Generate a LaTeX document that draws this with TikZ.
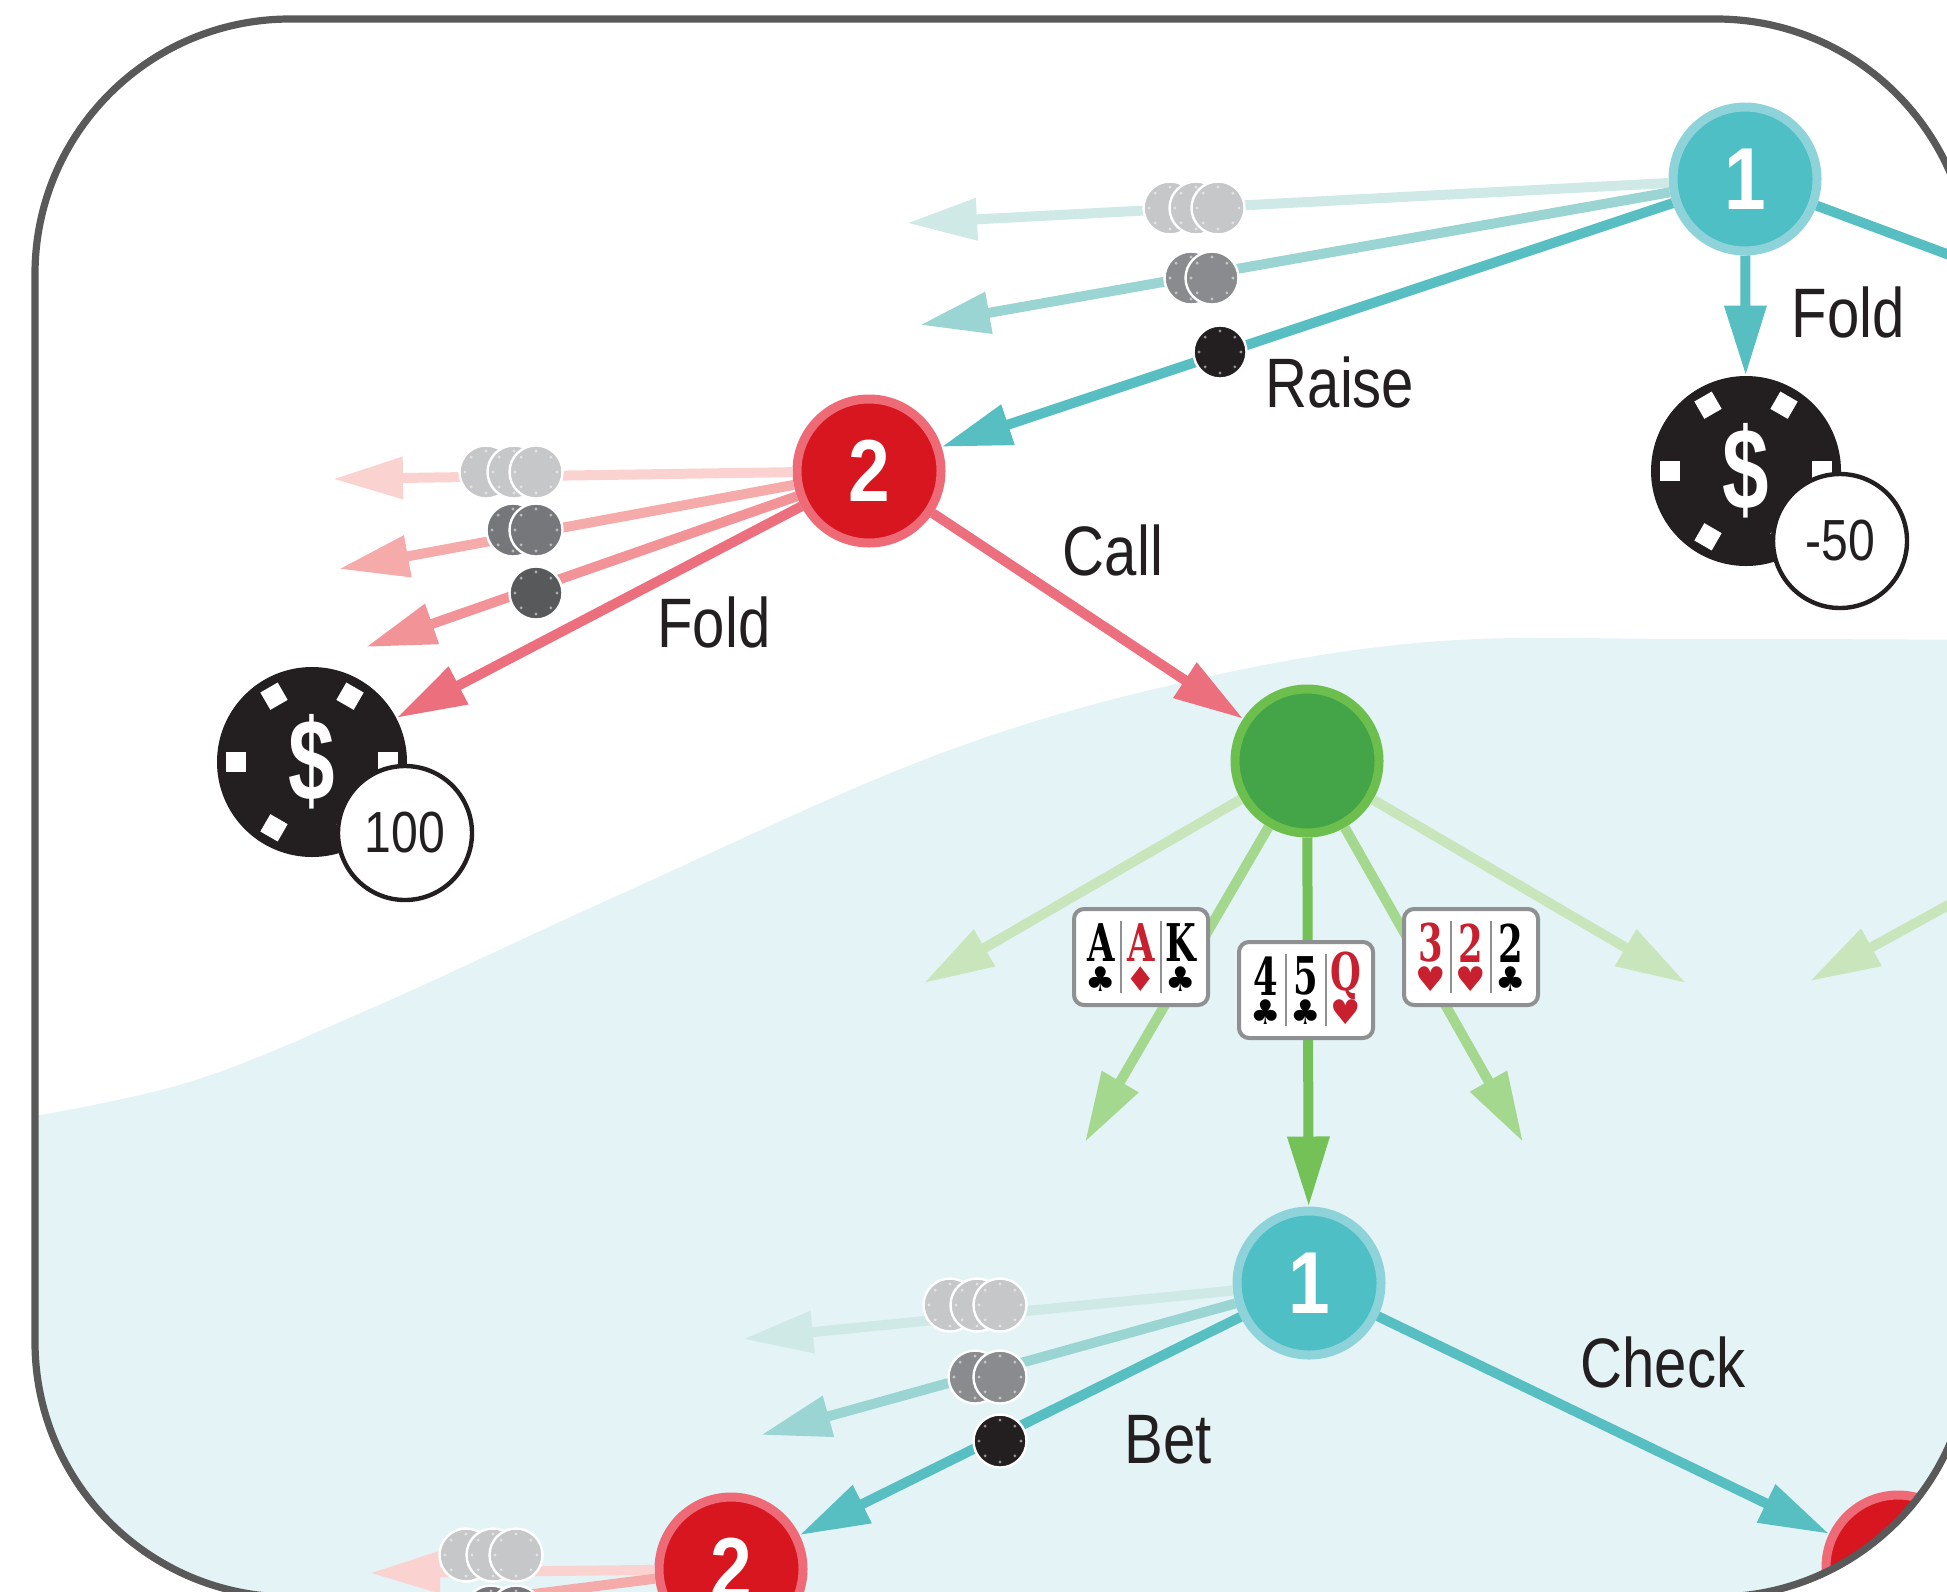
\documentclass[tikz,border=0pt]{standalone}
\usepackage{fontspec}
\usetikzlibrary{arrows.meta}
\newfontfamily\labelfont[FakeStretch=.83]{Liberation Sans}
\newfontfamily\playerfont[FakeStretch=.85]{Liberation Sans}
\newfontfamily\moneyfont[FakeStretch=.72]{Liberation Sans}
\newfontfamily\rankfont[FakeStretch=.68]{DejaVu Serif}
\newfontfamily\suitfont{DejaVu Sans}
\definecolor{felt}{HTML}{E4F3F6}
\definecolor{framegray}{HTML}{595959}
\definecolor{inkblack}{HTML}{231F20}
\definecolor{tealfill}{HTML}{4DBFC5}
\definecolor{tealline}{HTML}{8FD3DA}
\definecolor{tealmove}{HTML}{57BEC2}
\definecolor{tealmid}{HTML}{9BD5D3}
\definecolor{teallight}{HTML}{CFE9E6}
\definecolor{redfill}{HTML}{D7161F}
\definecolor{redline}{HTML}{EE6A76}
\definecolor{redmove}{HTML}{EB6F7C}
\definecolor{redthird}{HTML}{F29497}
\definecolor{redmid}{HTML}{F6ABAB}
\definecolor{redlight}{HTML}{FAD3D0}
\definecolor{greenfill}{HTML}{43A547}
\definecolor{greenline}{HTML}{6CBE4D}
\definecolor{greenmove}{HTML}{74C157}
\definecolor{greenmid}{HTML}{A5D88F}
\definecolor{greenlight}{HTML}{C8E5BC}
\definecolor{chiplight}{HTML}{C6C7C9}
\definecolor{chipmid}{HTML}{8A8B8E}
\definecolor{chipdark}{HTML}{75777A}
\definecolor{chipslate}{HTML}{58595B}
\definecolor{cardred}{HTML}{C8202E}
\definecolor{cardline}{HTML}{8E9092}
\tikzset{
  player/.style 2 args={circle,fill=#1,draw=#2,line width=4.5pt,minimum size=72pt,inner sep=0pt,
    text=white,font=\playerfont\bfseries\fontsize{44pt}{44pt}\selectfont},
  move/.style={draw=#1,line width=5pt,-{Triangle[length=35pt,width=20pt]}},
  chip/.style={circle,fill=#1,draw=white,line width=1.2pt,minimum size=26.5pt,inner sep=0pt,
    path picture={\foreach \a in {0,45,...,315}
      \fill[white,opacity=.5] (path picture bounding box.center) ++(\a:10.5pt) circle (.8pt);}},
  bigchip/.style={circle,fill=inkblack,minimum size=95pt,inner sep=0pt,text=white,
    font=\moneyfont\bfseries\fontsize{58pt}{58pt}\selectfont},
  spot/.style={rectangle,fill=white,minimum width=10pt,minimum height=10pt,inner sep=0pt},
  payoff/.style={circle,fill=white,draw=inkblack,line width=2.2pt,minimum size=67pt,inner sep=0pt,
    text=inkblack,font=\labelfont\fontsize{29pt}{29pt}\selectfont},
  movename/.style={anchor=base,inner sep=0pt,text=inkblack,font=\labelfont\fontsize{35pt}{35pt}\selectfont},
  card/.style={rectangle,rounded corners=5pt,fill=white,draw=cardline,line width=2pt,
    minimum width=67pt,minimum height=48pt,inner sep=0pt},
  rank/.style={inner sep=0pt,text=#1,font=\rankfont\bfseries\fontsize{26pt}{26pt}\selectfont},
  suit/.style={inner sep=0pt,text=#1,font=\suitfont\fontsize{17pt}{17pt}\selectfont}
}
\begin{document}
\begin{tikzpicture}[x=.5pt,y=-.5pt]
  \useasboundingbox (0,0) rectangle (1947,1591);
  \begin{scope}
    \clip[rounded corners=127.5pt] (35,19) rectangle (1971,1597);
    \fill[felt] plot[smooth,tension=.6] coordinates {(0,1122) (186,1083) (372,1008) (621,894)
      (931,757) (1180,683) (1428,642) (1700,639) (2000,640)} -- (2000,1650) -- (0,1650) -- cycle;

    \node[player={tealfill}{tealline}] (topa) at (1745,179) {1};
    \node[player={redfill}{redline}] (topb) at (869,471) {2};
    \node[player={greenfill}{greenline}] (deal) at (1307,761) {};
    \node[player={tealfill}{tealline}] (lowa) at (1309,1283) {1};
    \node[player={redfill}{redline}] (lowb) at (731,1569) {2};
    \node[player={redfill}{redline}] (lowc) at (1898,1567) {};

    \node[bigchip] (winb) at (312,762) {\$};
    \node[bigchip] (wina) at (1746,471) {\$};
    \foreach \a in {0,60,...,300} {
      \node[spot,rotate=\a] (spotb\a) at ([shift={(\a:38pt)}]winb.center) {};
      \node[spot,rotate=\a] (spota\a) at ([shift={(\a:38pt)}]wina.center) {};
    }
    \node[payoff] (sumb) at (405,833) {100};
    \node[payoff] (suma) at (1840,541) {-50};

    \coordinate (topaa) at (907,223);
    \coordinate (topab) at (920,325);
    \coordinate (topar) at (2100,311);
    \coordinate (topba) at (333,479);
    \coordinate (topbb) at (339,569);
    \coordinate (topbc) at (366,647);
    \coordinate (dealfl) at (924,983);
    \coordinate (deall) at (1085,1142);
    \coordinate (dealr) at (1523,1142);
    \coordinate (dealfr) at (1686,983);
    \coordinate (dealb) at (2147,796);
    \coordinate (dealc) at (1810,981);
    \coordinate (lowaa) at (743,1339);
    \coordinate (lowab) at (761,1435);
    \coordinate (lowba) at (370,1573);
    \coordinate (lowbb) at (250,1630);

    \draw[move=teallight] (topa) -- (topaa);
    \draw[move=tealmid] (topa) -- (topab);
    \draw[move=tealmove] (topa) -- (topb);
    \draw[move=tealmove] (topa) -- (wina);
    \draw[move=tealmove] (topa) -- (topar);
    \draw[move=redlight] (topb) -- (topba);
    \draw[move=redmid] (topb) -- (topbb);
    \draw[move=redthird] (topb) -- (topbc);
    \draw[move=redmove] (topb) -- (winb);
    \draw[move=redmove] (topb) -- (deal);
    \draw[move=greenlight] (deal) -- (dealfl);
    \draw[move=greenmid] (deal) -- (deall);
    \draw[move=greenmove] (deal) -- (lowa);
    \draw[move=greenmid] (deal) -- (dealr);
    \draw[move=greenlight] (deal) -- (dealfr);
    \draw[move=greenlight] (dealb) -- (dealc);
    \draw[move=teallight] (lowa) -- (lowaa);
    \draw[move=tealmid] (lowa) -- (lowab);
    \draw[move=tealmove] (lowa) -- (lowb);
    \draw[move=tealmove] (lowa) -- (lowc);
    \draw[move=redlight] (lowb) -- (lowba);
    \draw[move=redmid] (lowb) -- (lowbb);

    \foreach \n/\x/\y/\c in {aa/1170/208/chiplight,ab/1196/208/chiplight,ac/1218/208/chiplight,
        ad/1191/278/chipmid,ae/1212/278/chipmid,af/1220/352/inkblack,
        ba/486/472/chiplight,bb/514/472/chiplight,bc/536/472/chiplight,
        bd/513/530/chipdark,be/536/530/chipdark,bf/536/593/chipslate,
        ca/950/1305/chiplight,cb/977/1305/chiplight,cc/1000/1305/chiplight,
        cd/975/1377/chipmid,ce/1000/1377/chipmid,cf/1000/1441/inkblack,
        da/466/1555/chiplight,db/493/1555/chiplight,dc/516/1555/chiplight,
        dd/491/1612/chipdark,de/516/1612/chipdark}
      \node[chip=\c] (chip\n) at (\x,\y) {};

    \node[card] (flopa) at (1141,957) {};
    \node[card] (flopb) at (1306,990) {};
    \node[card] (flopc) at (1471,957) {};
    \foreach \f/\i/\r/\s/\c in {a/-1/A/♣/black,a/0/A/♦/cardred,a/1/K/♣/black,
        b/-1/4/♣/black,b/0/5/♣/black,b/1/Q/♥/cardred,
        c/-1/3/♥/cardred,c/0/2/♥/cardred,c/1/2/♣/black} {
      \node[rank=\c] (rank\f\i) at ([shift={(\i*20pt,7pt)}]flop\f.center) {\r};
      \node[suit=\c] (suit\f\i) at ([shift={(\i*20pt,-11pt)}]flop\f.center) {\s};
    }
    \foreach \f in {a,b,c}
      \foreach \i in {-10,10}
        \draw[cardline,line width=1pt] ([shift={(\i pt,18pt)}]flop\f.center) -- ([shift={(\i pt,-18pt)}]flop\f.center);

    \node[movename] (foldt) at (1848,337) {Fold};
    \node[movename] (raise) at (1340,407) {Raise};
    \node[movename] (call) at (1113,575) {Call};
    \node[movename] (foldl) at (714,647) {Fold};
    \node[movename] (check) at (1663,1387) {Check};
    \node[movename] (bet) at (1168,1463) {Bet};
  \end{scope}
  \draw[framegray,line width=3.6pt,rounded corners=127.5pt] (35,19) rectangle (1971,1597);
\end{tikzpicture}
\end{document}
